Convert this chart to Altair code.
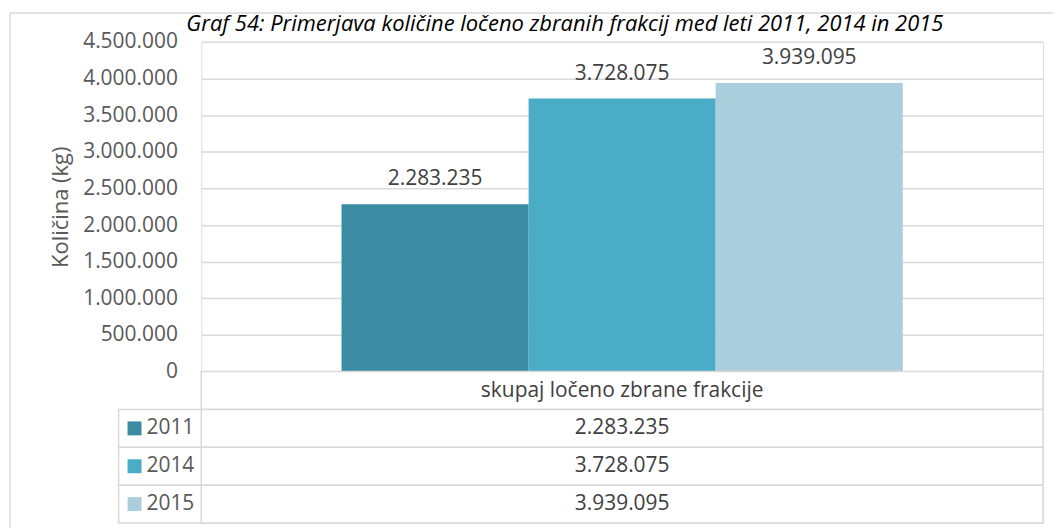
import altair as alt
import pandas as pd

# ---- data ----
category = "skupaj ločeno zbrane frakcije"
years = ["2011", "2014", "2015"]
values = [2283235, 3728075, 3939095]
colors = ["#3B8BA3", "#4BACC6", "#AACEDC"]
y_ticks = [0, 500000, 1000000, 1500000, 2000000, 2500000, 3000000, 3500000, 4000000, 4500000]
title_text = "Graf 54: Primerjava količine ločeno zbranih frakcij med leti 2011, 2014 in 2015"
y_title = "Količina (kg)"


def fmt(v):
    return f"{v:,}".replace(",", ".")


bars_df = pd.DataFrame({
    "category": [category] * len(years),
    "year": years,
    "value": values,
    "label": [fmt(v) for v in values],
})

row_order = ["hdr"] + years
table_df = pd.DataFrame({
    "row": row_order,
    "category": [category] * len(row_order),
    "text": [category] + [fmt(v) for v in values],
    "year": [""] + years,
})

FONT = "Open Sans"
GRID = "#D9D9D9"
W, H = 845, 331
LBL = 21

color_scale = alt.Scale(domain=years, range=colors)
one = pd.DataFrame({"t": [title_text]})

# ---- top chart ----
x_enc = alt.X("category:N", scale=alt.Scale(paddingInner=0, paddingOuter=0.25), axis=None)
xoff = alt.XOffset("year:N", sort=years, scale=alt.Scale(domain=years, paddingInner=0, paddingOuter=0))
y_enc = alt.Y("value:Q", scale=alt.Scale(domain=[0, 4500000], nice=False),
              axis=alt.Axis(values=y_ticks,
                            labelExpr="replace(format(datum.value, ','), regexp(',', 'g'), '.')",
                            labelFont=FONT, labelFontSize=LBL, labelColor="#595959", labelPadding=24,
                            ticks=False, domain=False, grid=True, gridColor=GRID, gridWidth=1.5,
                            title=y_title, titleFont=FONT, titleFontSize=22, titleFontWeight="normal",
                            titleColor="#595959", titleX=-141, titleY=H / 2, titleAngle=270,
                            titleAlign="center", titleBaseline="middle"))

bars = alt.Chart(bars_df).mark_bar().encode(
    x=x_enc, xOffset=xoff, y=y_enc,
    color=alt.Color("year:N", scale=color_scale, legend=None),
)
labels = alt.Chart(bars_df).mark_text(dy=-25, baseline="middle", font=FONT, fontSize=LBL,
                                      color="#404040").encode(
    x=x_enc, xOffset=xoff, y=y_enc, text="label:N")

frame_top = alt.Chart(one).mark_rule(color=GRID, strokeWidth=1.5).encode(
    x=alt.value(-192), x2=alt.value(855), y=alt.value(-29))
frame_left = alt.Chart(one).mark_rule(color=GRID, strokeWidth=1.5).encode(
    x=alt.value(-192), y=alt.value(-29), y2=alt.value(H))
title_mark = alt.Chart(one).mark_text(font=FONT, fontSize=22, fontStyle="italic", color="black",
                                      align="center", baseline="alphabetic").encode(
    x=alt.value(365), y=alt.value(-11), text="t:N")

top = alt.layer(frame_top, frame_left, title_mark, bars, labels).properties(width=W, height=H)

# ---- data table ----
tx = alt.X("category:N", scale=alt.Scale(paddingInner=0, paddingOuter=0), axis=None)
ty = alt.Y("row:N", sort=row_order, scale=alt.Scale(domain=row_order, paddingInner=0, paddingOuter=0),
           axis=None)

tbase = alt.Chart(table_df)
cells = tbase.mark_rect(fill="white", stroke=GRID, strokeWidth=1.5).encode(x=tx, y=ty)
left_cells = tbase.transform_filter("datum.year != ''").mark_rect(
    fill="white", stroke=GRID, strokeWidth=1.5).encode(x=alt.value(-83), x2=alt.value(0), y=ty)
swatches = tbase.transform_filter("datum.year != ''").mark_point(
    shape="square", filled=True, size=196, opacity=1, strokeWidth=0).encode(
    x=alt.value(-67), y=ty, color=alt.Color("year:N", scale=color_scale, legend=None))
year_txt = tbase.transform_filter("datum.year != ''").mark_text(
    align="left", baseline="middle", font=FONT, fontSize=LBL, color="#595959").encode(
    x=alt.value(-55), y=ty, text="year:N")
cell_txt = tbase.mark_text(align="center", baseline="middle", font=FONT, fontSize=LBL,
                           color="#404040").encode(x=tx, y=ty, text="text:N")
frame_left2 = alt.Chart(one).mark_rule(color=GRID, strokeWidth=1.5).encode(
    x=alt.value(-192), y=alt.value(0), y2=alt.value(157))

table = alt.layer(frame_left2, cells, left_cells, swatches, year_txt, cell_txt).properties(
    width=W, height=152)

chart = alt.vconcat(top, table, spacing=0, bounds="flush").properties(
    padding={"left": 0, "top": 2, "right": 0, "bottom": 0}
).configure_view(strokeWidth=0).configure(font=FONT)

chart.save("out.html", embed_options={"renderer": "svg", "actions": False})
